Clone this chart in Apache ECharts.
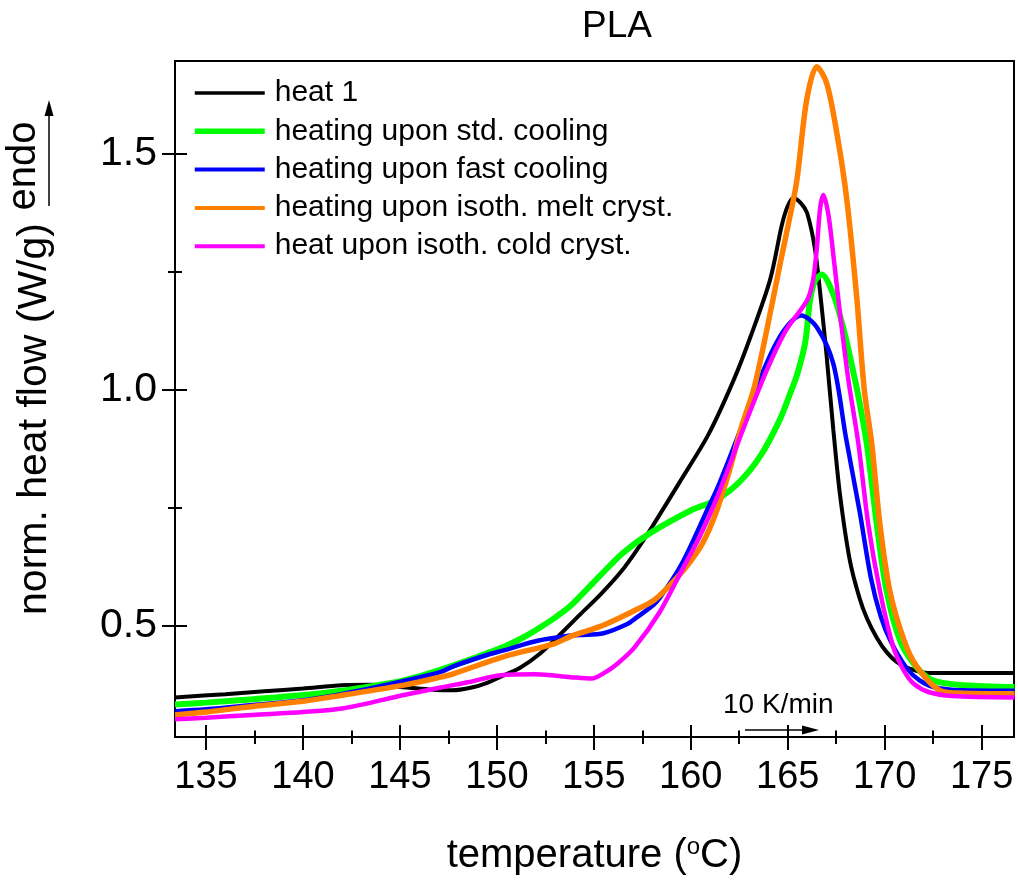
<!DOCTYPE html>
<html>
<head>
<meta charset="utf-8">
<script src="https://cdn.jsdelivr.net/npm/echarts@6/dist/echarts.min.js"></script>
<style>
html,body{margin:0;padding:0;background:#fff;}
#chart{width:1018px;height:881px;}
</style>
</head>
<body>
<div id="chart"></div>
<script>
// ---- data ----
const seriesNames = ['heat 1', 'heating upon std. cooling', 'heating upon fast cooling', 'heating upon isoth. melt cryst.', 'heat upon isoth. cold cryst.'];

const heat1T = [133.4,136,138,140,142,143.5,145,146.5,147.7,148.7,149.5,150.2,151.2,152.2,153.2,154.3,155.3,156.4,157.2,158.0,159.5,160.9,162.2,163.1,164.1,164.7,165.0,165.3,165.7,166.0,166.4,166.7,167.0,167.35,167.7,168.2,168.7,169.1,169.6,170.1,170.6,171.1,171.6,172.2,176.7];
const heat1V = [0.349,0.356,0.362,0.368,0.375,0.376,0.371,0.366,0.364,0.370,0.380,0.393,0.412,0.441,0.480,0.525,0.565,0.615,0.660,0.710,0.810,0.905,1.020,1.115,1.235,1.350,1.390,1.407,1.395,1.375,1.300,1.196,1.075,0.917,0.777,0.640,0.560,0.515,0.475,0.445,0.425,0.413,0.406,0.401,0.401];

const stdT = [133.4,135,137.4,140,142.1,145.2,147.5,150.3,151.4,152.1,153.0,153.8,154.5,155.3,156.5,157.9,160.0,161.3,162.5,163.6,164.6,165.1,165.5,165.9,166.15,166.4,166.75,167.35,167.9,168.4,168.7,169.1,169.6,170.1,170.8,171.65,172.5,174.1,176.7];
const stdV = [0.334,0.338,0.345,0.354,0.364,0.385,0.413,0.455,0.477,0.494,0.518,0.543,0.572,0.606,0.655,0.697,0.745,0.767,0.805,0.861,0.938,0.990,1.035,1.100,1.190,1.231,1.245,1.203,1.126,1.035,0.975,0.880,0.714,0.574,0.469,0.413,0.385,0.375,0.371];

const fastT = [133.4,135,137.4,140,142.1,145.2,147.1,147.75,149.65,150.3,152.1,153.8,154.3,155.5,156.7,157.2,158.1,158.4,159.1,159.6,160.1,160.8,161.4,162.7,163.9,164.8,165.7,166.5,167.35,168.0,168.7,169.3,169.8,170.3,171.1,171.8,172.6,174,176.7];
const fastV = [0.320,0.324,0.333,0.343,0.357,0.384,0.403,0.415,0.441,0.448,0.469,0.480,0.481,0.485,0.504,0.518,0.546,0.560,0.602,0.637,0.679,0.742,0.795,0.930,1.056,1.126,1.158,1.133,1.056,0.900,0.745,0.600,0.520,0.469,0.413,0.385,0.370,0.364,0.363];

const meltT = [133.4,135,137.4,140,142.1,145.2,147.1,147.75,150.4,152.9,153.9,155.3,156.5,157.0,158.1,159.0,159.8,160.6,161.3,162.0,162.6,163.3,164.26,164.6,165.0,165.46,165.98,166.5,167.01,167.53,168.04,168.56,168.95,169.33,169.76,170.27,171.0,171.65,172.85,174,176.7];
const meltV = [0.312,0.318,0.330,0.341,0.354,0.375,0.392,0.399,0.436,0.462,0.480,0.499,0.521,0.531,0.555,0.590,0.627,0.675,0.740,0.830,0.920,1.010,1.196,1.266,1.345,1.441,1.615,1.685,1.650,1.545,1.406,1.196,1.000,0.888,0.714,0.574,0.470,0.415,0.364,0.358,0.357];

const coldT = [133.4,135,137.4,140,142.1,145.2,147.1,148.5,150.2,152.0,153.8,154.9,155.5,156.2,157.1,158.4,159.5,160.5,161.4,162.7,163.9,164.9,166.0,166.3,166.5,166.67,166.84,167.1,167.35,167.7,168.13,168.64,169.16,169.76,170.45,171.0,171.5,172.3,173.5,176.7];
const coldV = [0.303,0.306,0.312,0.318,0.326,0.354,0.370,0.381,0.396,0.398,0.392,0.389,0.400,0.420,0.455,0.530,0.615,0.693,0.777,0.917,1.040,1.126,1.190,1.231,1.300,1.385,1.413,1.371,1.287,1.161,1.021,0.888,0.714,0.574,0.455,0.405,0.378,0.360,0.352,0.349];

const xMajorTicks = [135,140,145,150,155,160,165,170,175];
const xMinorTicks = [137.5,142.5,147.5,152.5,157.5,162.5,167.5,172.5];
const yMajorTicks = [0.5,1.0,1.5];
const yMinorTicks = [0.75,1.25];

const xMin = 133.4, xMax = 176.67, yMin = 0.2652, yMax = 1.697;
const colors = ['#000000', '#00ff00', '#0000ff', '#ff7f00', '#ff00ff'];
const widths = [4, 6, 4.5, 5.5, 4.5];
const legendWidths = [3.5, 5.5, 4, 4, 4];

// ---- chart ----
const FONT = '"Liberation Sans", Arial, Helvetica, sans-serif';
const chart = echarts.init(document.getElementById('chart'), null, {renderer: 'canvas'});
const allT = [heat1T, stdT, fastT, meltT, coldT];
const allV = [heat1V, stdV, fastV, meltV, coldV];

const grid = {left: 175, top: 61, right: 4, bottom: 137, containLabel: false};
const tickStyle = {color: '#000', width: 2};

function xAx(opts) {
  return Object.assign({
    type: 'value', min: xMin, max: xMax, gridIndex: 0,
    axisLine: {show: true, onZero: false, lineStyle: {color: '#000', width: 2}},
    splitLine: {show: false},
    axisLabel: {show: false},
    axisTick: {show: false}
  }, opts);
}
function yAx(opts) {
  return Object.assign({
    type: 'value', min: yMin, max: yMax, gridIndex: 0,
    axisLine: {show: true, onZero: false, lineStyle: {color: '#000', width: 2}},
    splitLine: {show: false},
    axisLabel: {show: false},
    axisTick: {show: false}
  }, opts);
}

const option = {
  animation: false,
  backgroundColor: '#fff',
  title: {
    text: 'PLA', left: 582, top: 8, padding: 0,
    textStyle: {fontFamily: FONT, fontSize: 37, fontWeight: 'normal', color: '#000'}
  },
  legend: {
    orient: 'vertical', left: 192, top: 78, padding: 0,
    itemWidth: 70, itemHeight: 14, itemGap: 8.3,
    itemStyle: {opacity: 0},
    data: seriesNames.map((n, i) => ({name: n, lineStyle: {width: legendWidths[i], color: colors[i]}, itemStyle: {opacity: 0}})),
    textStyle: {fontFamily: FONT, fontSize: 30, color: '#000', lineHeight: 30, padding: [0, 0, 0, 5]}
  },
  grid: grid,
  xAxis: [
    xAx({
      position: 'bottom',
      axisLabel: {show: true, customValues: xMajorTicks, fontFamily: FONT, fontSize: 38, color: '#000', margin: 22},
      axisTick: {show: true, customValues: xMajorTicks, inside: true, length: 12, lineStyle: tickStyle},
      name: '{t|temperature (}{s|o}{t|C)}',
      nameLocation: 'middle', nameGap: 98,
      nameTextStyle: {
        rich: {
          t: {fontFamily: FONT, fontSize: 40, color: '#000'},
          s: {fontFamily: FONT, fontSize: 24, color: '#000', verticalAlign: 'top', padding: [0, 0, 18, 0]}
        }
      }
    }),
    xAx({position: 'bottom', axisTick: {show: true, customValues: xMajorTicks, inside: false, length: 13, lineStyle: tickStyle}}),
    xAx({position: 'bottom', axisTick: {show: true, customValues: xMinorTicks, inside: true, length: 6.5, lineStyle: tickStyle}}),
    xAx({position: 'bottom', axisTick: {show: true, customValues: xMinorTicks, inside: false, length: 7, lineStyle: tickStyle}}),
    xAx({position: 'top'})
  ],
  yAxis: [
    yAx({
      position: 'left',
      axisLabel: {show: true, customValues: yMajorTicks, fontFamily: FONT, fontSize: 41, color: '#000', margin: 18,
        formatter: v => v.toFixed(1)},
      axisTick: {show: true, customValues: yMajorTicks, inside: true, length: 12, lineStyle: tickStyle},
      name: 'norm. heat flow (W/g)', nameLocation: 'middle', nameRotate: 90, nameGap: 120,
      nameTextStyle: {fontFamily: FONT, fontSize: 41, color: '#000', padding: [0, 40, 0, 0]}
    }),
    yAx({position: 'left', axisTick: {show: true, customValues: yMajorTicks, inside: false, length: 13, lineStyle: tickStyle}}),
    yAx({position: 'left', axisTick: {show: true, customValues: yMinorTicks, inside: true, length: 7, lineStyle: tickStyle}}),
    yAx({position: 'left', axisTick: {show: true, customValues: yMinorTicks, inside: false, length: 7, lineStyle: tickStyle}}),
    yAx({position: 'right'})
  ],
  series: seriesNames.map((n, i) => ({
    name: n, type: 'line', xAxisIndex: 0, yAxisIndex: 0,
    data: allT[i].map((t, j) => [t, allV[i][j]]),
    symbol: 'none', smooth: 0.3,
    lineStyle: {color: colors[i], width: widths[i]},
    itemStyle: {color: colors[i], opacity: 0},
    z: 2 + i
  })),
  graphic: [
    {type: 'text', x: 24, y: 166, rotation: Math.PI / 2,
      style: {text: 'endo', fontFamily: FONT, fontSize: 40, fill: '#000', align: 'center', verticalAlign: 'middle'}},
    {type: 'line', shape: {x1: 49, y1: 206, x2: 49, y2: 112}, style: {stroke: '#000', lineWidth: 1.5}},
    {type: 'polygon', shape: {points: [[44.5, 116], [53.5, 116], [49, 100]]}, style: {fill: '#000'}},
    {type: 'text', x: 723, y: 705, style: {text: '10 K/min', fontFamily: FONT, fontSize: 28, fill: '#000', align: 'left', verticalAlign: 'middle'}},
    {type: 'line', shape: {x1: 745, y1: 730, x2: 805, y2: 730}, style: {stroke: '#000', lineWidth: 1.5}},
    {type: 'polygon', shape: {points: [[802, 725.5], [802, 734.5], [819, 730]]}, style: {fill: '#000'}}
  ]
};
chart.setOption(option);
</script>
</body>
</html>
